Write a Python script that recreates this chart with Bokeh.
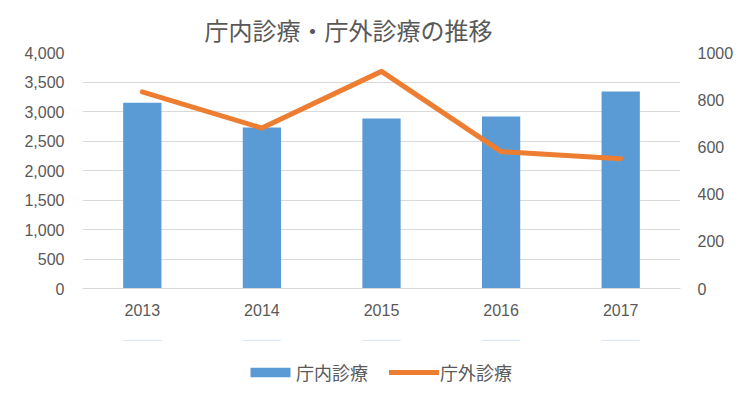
from bokeh.plotting import figure
from bokeh.layouts import column
from bokeh.models import (Range1d, LinearAxis, NumeralTickFormatter,
                          FixedTicker, Legend, LegendItem, Title)
from bokeh.embed import file_html
from bokeh.resources import INLINE

years = ["2013", "2014", "2015", "2016", "2017"]
naibu = [3150, 2730, 2880, 2915, 3340]   # 庁内診療 (left axis)
gaibu = [833, 680, 920, 580, 550]        # 庁外診療 (right axis)
left_ticks = [0, 500, 1000, 1500, 2000, 2500, 3000, 3500, 4000]
right_ticks = [0, 200, 400, 600, 800, 1000]
series_names = ["庁内診療", "庁外診療"]

TXT = "#595959"
GRID = "#D9D9D9"
BLUE = "#5B9BD5"
ORANGE = "#ED7D31"
JP = "Noto Sans CJK JP"
NUM = "Liberation Sans"

p = figure(width=736, height=340, x_range=years, y_range=Range1d(0, 4000),
           output_backend="svg", toolbar_location=None,
           min_border_left=82, min_border_right=48, min_border_top=52,
           min_border_bottom=52)
p.extra_y_ranges = {"r": Range1d(0, 1000)}
p.outline_line_color = None
p.background_fill_color = "white"
p.border_fill_color = "white"

t = Title(text="庁内診療・庁外診療の推移", text_font=JP, text_font_size="24px",
          text_font_style="normal", text_color=TXT, align="left", offset=122,
          standoff=12)
p.add_layout(t, "above")

bars = p.vbar(x=years, top=naibu, width=0.32, fill_color=BLUE, line_color=None)
line = p.line(x=years, y=gaibu, y_range_name="r", line_color=ORANGE,
              line_width=5, line_join="round", line_cap="round")

# left axis
la = p.yaxis[0]
la.ticker = FixedTicker(ticks=left_ticks)
la.formatter = NumeralTickFormatter(format="0,0")
la.axis_line_color = None
la.major_tick_line_color = None
la.minor_tick_line_color = None
la.major_tick_out = 0
la.major_label_standoff = 18
la.major_label_text_font = NUM
la.major_label_text_font_size = "16px"
la.major_label_text_color = TXT

# right axis
ra = LinearAxis(y_range_name="r", ticker=FixedTicker(ticks=right_ticks))
ra.axis_line_color = None
ra.major_tick_line_color = None
ra.minor_tick_line_color = None
ra.major_tick_out = 0
ra.major_label_standoff = 17
ra.major_label_text_font = NUM
ra.major_label_text_font_size = "16px"
ra.major_label_text_color = TXT
p.add_layout(ra, "right")

# x axis
xa = p.xaxis[0]
xa.axis_line_color = GRID
xa.major_tick_line_color = None
xa.minor_tick_line_color = None
xa.major_tick_out = 0
xa.major_label_standoff = 15
xa.major_label_text_font = NUM
xa.major_label_text_font_size = "16px"
xa.major_label_text_color = TXT

p.xgrid.grid_line_color = None
p.ygrid.grid_line_color = GRID
p.ygrid.ticker = FixedTicker(ticks=left_ticks)

# legend strip underneath (same series, drawn well outside its visible range)
lg = figure(width=736, height=50, x_range=years, y_range=Range1d(-40000, -36000),
            output_backend="svg", toolbar_location=None,
            x_axis_location=None, y_axis_location=None,
            min_border_left=82, min_border_right=48,
            min_border_top=0, min_border_bottom=0)
lg.outline_line_color = None
lg.xgrid.grid_line_color = None
lg.ygrid.grid_line_color = None
lb = lg.vbar(x=years, top=naibu, width=0.32, fill_color=BLUE, line_color=None)
ll = lg.line(x=years, y=gaibu, line_color=ORANGE, line_width=5, line_cap="round")

legend = Legend(items=[LegendItem(label=series_names[0], renderers=[lb]),
                       LegendItem(label=series_names[1], renderers=[ll])],
                orientation="horizontal", location=(163, 5),
                padding=0, margin=0, spacing=21,
                glyph_width=50, glyph_height=12, label_height=20,
                label_standoff=1,
                label_text_font=JP, label_text_font_size="18px",
                label_text_color=TXT, border_line_color=None,
                background_fill_alpha=0)
lg.add_layout(legend, "center")

open("out.html", "w").write(file_html(column(p, lg, spacing=0), INLINE))
